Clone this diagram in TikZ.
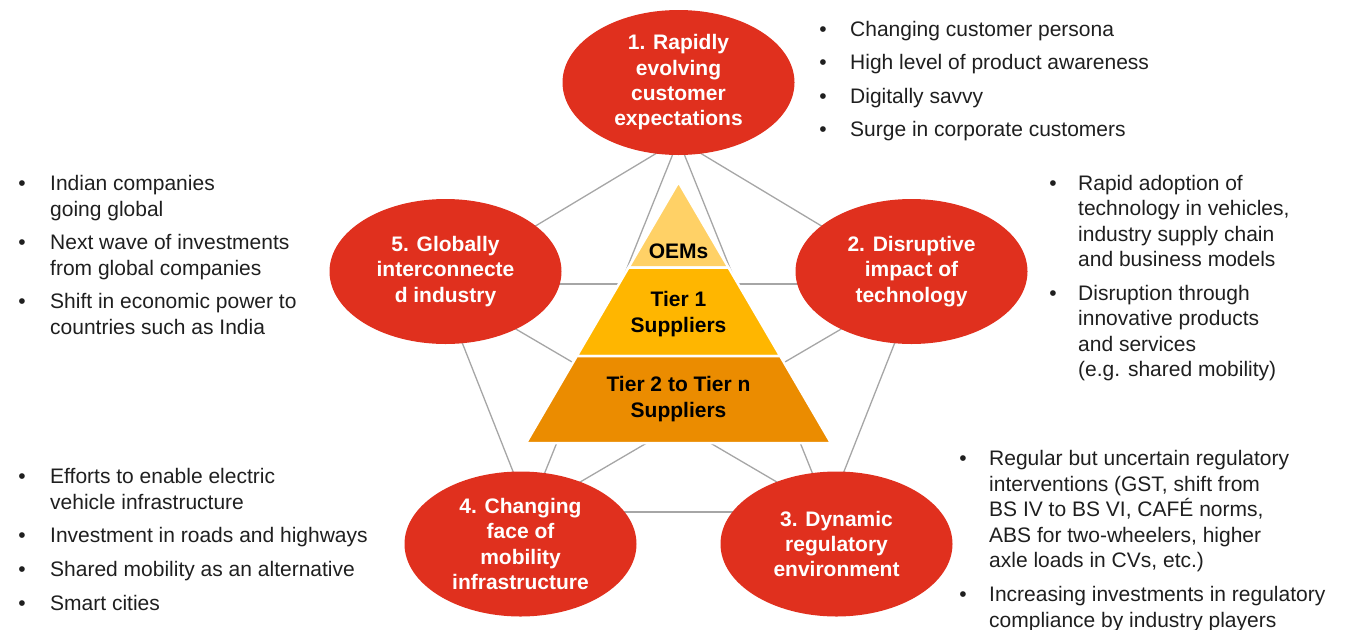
\documentclass[tikz,border=0pt]{standalone}
\usepackage{fontspec}
\setmainfont{Liberation Sans}
\usetikzlibrary{shapes.geometric}

\definecolor{driverred}{HTML}{E0301E}
\definecolor{tierA}{HTML}{FFD166}
\definecolor{tierB}{HTML}{FFB600}
\definecolor{tierC}{HTML}{EB8C00}
\definecolor{linkgray}{HTML}{A6A6A6}
\definecolor{bodytext}{HTML}{1F1F1F}

% stacked lines of one bullet item, baseline on the first line
\newcommand\itemtext[1]{\begin{tabular}[t]{@{}l@{}}#1\end{tabular}}

\begin{document}
\begin{tikzpicture}[x=1pt,y=-1pt,
  link/.style={draw=linkgray,line width=1.3pt},
  driver/.style={ellipse,fill=driverred,minimum width=232pt,minimum height=145pt,
    inner sep=0pt,text=white,align=center,
    font=\bfseries\fontsize{21}{25.3}\selectfont},
  tier/.style={draw=white,line width=2.5pt,line join=miter},
  tiertext/.style={text=black,align=center,inner sep=0pt,
    font=\bfseries\fontsize{21}{25.5}\selectfont},
  body/.style={anchor=base west,inner sep=0pt,text=bodytext,
    font=\fontsize{21}{25.5}\selectfont},
  dot/.style={anchor=base,inner sep=0pt,text=bodytext,
    font=\fontsize{21}{25.5}\selectfont}]

\useasboundingbox (0,0) rectangle (1346,629);

% corners of the network linking the five drivers
\coordinate (v1) at (678.5,140);
\coordinate (v2) at (918,284);
\coordinate (v3) at (828,512);
\coordinate (v4) at (529,512);
\coordinate (v5) at (439,284);

% outer ring
\draw[link] (v1) -- (v2);
\draw[link] (v2) -- (v3);
\draw[link] (v3) -- (v4);
\draw[link] (v4) -- (v5);
\draw[link] (v5) -- (v1);
% inner star
\draw[link] (v1) -- (v3);
\draw[link] (v1) -- (v4);
\draw[link] (v2) -- (v4);
\draw[link] (v2) -- (v5);
\draw[link] (v3) -- (v5);

% the five drivers
\node[driver] (d1) at (678.5,82.5) {1. Rapidly\\evolving\\customer\\expectations};
\node[driver] (d2) at (911.5,271.5) {2. Disruptive\\impact of\\technology};
\node[driver] (d3) at (836.5,544) {3. Dynamic\\regulatory\\environment};
\node[driver] (d4) at (520.5,544) {4. Changing\\face of\\mobility\\infrastructure};
\node[driver] (d5) at (445.5,271.5) {5. Globally\\interconnecte\\d industry};

% supplier pyramid
\fill[tierA,tier] (678.5,182) -- (728.5,267.5) -- (628.5,267.5) -- cycle;
\fill[tierB,tier] (628.5,267.5) -- (728.5,267.5) -- (780.2,356) -- (576.8,356) -- cycle;
\fill[tierC,tier] (576.8,356) -- (780.2,356) -- (831,443) -- (526,443) -- cycle;
\node[tiertext] (oem) at (678.5,251) {OEMs};
\node[tiertext] (t1) at (678.5,314) {Tier 1\\Suppliers};
\node[tiertext] (tn) at (678.5,399) {Tier 2 to Tier n\\Suppliers};

% driver 1 notes
\node[dot] (p1a) at (823,36) {•};
\node[body] (q1a) at (850,36) {Changing customer persona};
\node[dot] (p1b) at (823,69.5) {•};
\node[body] (q1b) at (850,69.5) {High level of product awareness};
\node[dot] (p1c) at (823,103) {•};
\node[body] (q1c) at (850,103) {Digitally savvy};
\node[dot] (p1d) at (823,136.5) {•};
\node[body] (q1d) at (850,136.5) {Surge in corporate customers};

% driver 2 notes
\node[dot] (p2a) at (1053,190) {•};
\node[body] (q2a) at (1078,190) {\itemtext{Rapid adoption of\\technology in vehicles,\\industry supply chain\\and business models}};
\node[dot] (p2b) at (1053,300) {•};
\node[body] (q2b) at (1078,300) {\itemtext{Disruption through\\innovative products\\and services\\(e.g. shared mobility)}};

% driver 3 notes
\node[dot] (p3a) at (963,465.5) {•};
\node[body] (q3a) at (989,465.5) {\itemtext{Regular but uncertain regulatory\\interventions (GST, shift from\\BS IV to BS VI, CAFÉ norms,\\ABS for two-wheelers, higher\\axle loads in CVs, etc.)}};
\node[dot] (p3b) at (963,601.5) {•};
\node[body] (q3b) at (989,601.5) {\itemtext{Increasing investments in regulatory\\compliance by industry players}};

% driver 5 notes
\node[dot] (p5a) at (22,190.5) {•};
\node[body] (q5a) at (50,190.5) {\itemtext{Indian companies\\going global}};
\node[dot] (p5b) at (22,249.5) {•};
\node[body] (q5b) at (50,249.5) {\itemtext{Next wave of investments\\from global companies}};
\node[dot] (p5c) at (22,308.5) {•};
\node[body] (q5c) at (50,308.5) {\itemtext{Shift in economic power to\\countries such as India}};

% driver 4 notes
\node[dot] (p4a) at (22,483.5) {•};
\node[body] (q4a) at (50,483.5) {\itemtext{Efforts to enable electric\\vehicle infrastructure}};
\node[dot] (p4b) at (22,542.5) {•};
\node[body] (q4b) at (50,542.5) {Investment in roads and highways};
\node[dot] (p4c) at (22,576.5) {•};
\node[body] (q4c) at (50,576.5) {Shared mobility as an alternative};
\node[dot] (p4d) at (22,610.5) {•};
\node[body] (q4d) at (50,610.5) {Smart cities};

\end{tikzpicture}
\end{document}
